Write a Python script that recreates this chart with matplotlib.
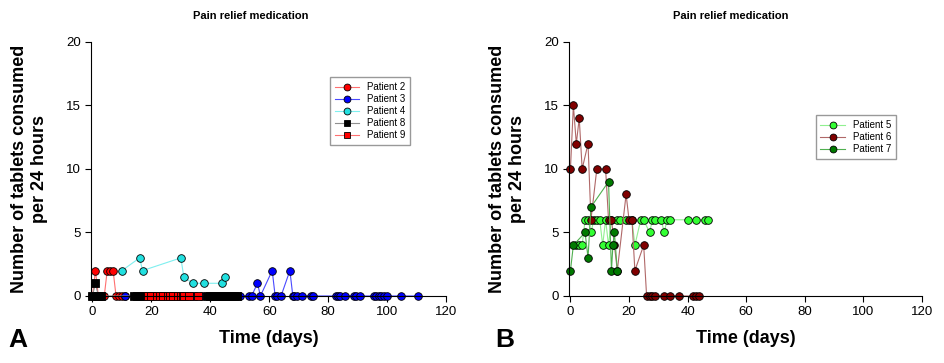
import matplotlib.pyplot as plt

plt.rcParams['font.family'] = ['Liberation Sans', 'DejaVu Sans']

# Panel A
p2_days = [0, 1, 2, 3, 4, 5, 6, 7, 8, 9, 10, 11]
p2_vals = [0, 2, 0, 0, 0, 2, 2, 2, 0, 0, 0, 0]
p3_days = [11, 17, 33, 34, 35, 37, 44, 50, 53, 54, 56, 57, 61, 62, 62.5, 64, 67, 68, 68.5, 69.5, 71,
           74, 75, 82.5, 83.3, 84.1, 85.8, 88.6, 89.5, 90.9, 95.4, 96.3, 97.1, 98, 98.8, 99.9, 104.7, 110.6]
p3_vals = [0, 0, 0, 0, 0, 0, 0, 0, 0, 0, 1, 0, 2, 0, 0, 0, 2, 0, 0, 0, 0,
           0, 0, 0, 0, 0, 0, 0, 0, 0, 0, 0, 0, 0, 0, 0, 0, 0]
p4_days = [10, 16, 17, 30, 31, 34, 38, 44, 45]
p4_vals = [2, 3, 2, 3, 1.5, 1, 1, 1, 1.5]
p8_days = [0, 1, 2, 3, 14, 15, 16, 17, 19, 20, 39, 40, 41, 42, 43, 44, 45, 46, 47, 48, 49]
p8_vals = [0, 1, 0, 0, 0, 0, 0, 0, 0, 0, 0, 0, 0, 0, 0, 0, 0, 0, 0, 0, 0]
p9_days = [19, 20, 22, 23, 24, 25.6, 26.2, 27.3, 29, 30.1, 30.6, 31.2, 32.8, 35.8]
p9_vals = [0, 0, 0, 0, 0, 0, 0, 0, 0, 0, 0, 0, 0, 0]

# Panel B
p5_days = [2, 3, 4, 5, 6, 7, 8, 9, 10, 11, 12, 13, 14, 16, 17, 19, 21, 22, 24, 25, 27, 28, 29, 31, 32, 33, 34,
           40, 43, 46, 47]
p5_vals = [4, 4, 4, 6, 6, 5, 6, 6, 6, 4, 6, 4, 6, 6, 6, 6, 6, 4, 6, 6, 5, 6, 6, 6, 5, 6, 6, 6, 6, 6, 6]
p6_days = [0, 1, 2, 3, 4, 6, 7, 9, 12, 13, 14, 15, 16, 19, 20, 21, 22, 25, 26, 27, 28, 29, 32, 34, 37,
           42, 43, 44]
p6_vals = [10, 15, 12, 14, 10, 12, 6, 10, 10, 6, 6, 4, 2, 8, 6, 6, 2, 4, 0, 0, 0, 0, 0, 0, 0, 0, 0, 0]
p7_days = [0, 1, 5, 6, 7, 13, 14, 14.5, 15, 16]
p7_vals = [2, 4, 5, 3, 7, 9, 2, 4, 5, 2]

fig = plt.figure(figsize=(9.45, 3.63), dpi=100)
axA = fig.add_axes([0.0963, 0.1846, 0.3757, 0.6997])
axB = fig.add_axes([0.6021, 0.1846, 0.3735, 0.6997])

ms = 5.5
kw = dict(markeredgecolor='black', markeredgewidth=0.6, linewidth=0.8, markersize=ms)
axA.plot(p2_days, p2_vals, 'o-', color='#ff7070', markerfacecolor='#ff0000', label='Patient 2', **kw)
axA.plot(p3_days, p3_vals, 'o-', color='#4a4aff', markerfacecolor='#0000ff', label='Patient 3', **kw)
axA.plot(p4_days, p4_vals, 'o-', color='#7fefef', markerfacecolor='#22e0e0', label='Patient 4', **kw)
axA.plot(p8_days, p8_vals, 's-', color='#909090', markerfacecolor='#000000', label='Patient 8', **kw)
axA.plot(p9_days, p9_vals, 's-', color='#ff7070', markerfacecolor='#ff0000', label='Patient 9', **kw)

axB.plot(p5_days, p5_vals, 'o-', color='#90f090', markerfacecolor='#33ff33', label='Patient 5', **kw)
axB.plot(p6_days, p6_vals, 'o-', color='#b06868', markerfacecolor='#800000', label='Patient 6', **kw)
axB.plot(p7_days, p7_vals, 'o-', color='#50b050', markerfacecolor='#007a00', label='Patient 7', **kw)

for ax in (axA, axB):
    ax.set_xlim(-0.5, 120)
    ax.set_ylim(0, 20)
    ax.set_xticks(range(0, 121, 20))
    ax.set_yticks(range(0, 21, 5))
    ax.spines['top'].set_visible(False)
    ax.spines['right'].set_visible(False)
    ax.tick_params(direction='out', length=4, labelsize=9.5)
    ax.set_xlabel('Time (days)', fontsize=13, fontweight='bold', labelpad=8)
    ax.set_ylabel('Number of tablets consumed\nper 24 hours', fontsize=13, fontweight='bold', labelpad=13)
    for ln in ax.lines:
        ln.set_clip_on(False)

axA.legend(loc='upper left', bbox_to_anchor=(0.66, 0.88), fontsize=7, frameon=True, fancybox=False,
           edgecolor='#808080', handlelength=2.5, borderpad=0.5, labelspacing=0.2, markerscale=0.9)
axB.legend(loc='upper left', bbox_to_anchor=(0.685, 0.73), fontsize=7, frameon=True, fancybox=False,
           edgecolor='#808080', handlelength=2.5, borderpad=0.5, labelspacing=0.2, markerscale=0.9)

fig.text(251 / 945, 1 - 16 / 363, 'Pain relief medication', ha='center', va='center', fontsize=8, fontweight='bold')
fig.text(731 / 945, 1 - 16 / 363, 'Pain relief medication', ha='center', va='center', fontsize=8, fontweight='bold')
fig.text(18 / 945, 1 - 340 / 363, 'A', ha='center', va='center', fontsize=19, fontweight='bold')
fig.text(505 / 945, 1 - 340 / 363, 'B', ha='center', va='center', fontsize=19, fontweight='bold')

plt.savefig('out.png')
